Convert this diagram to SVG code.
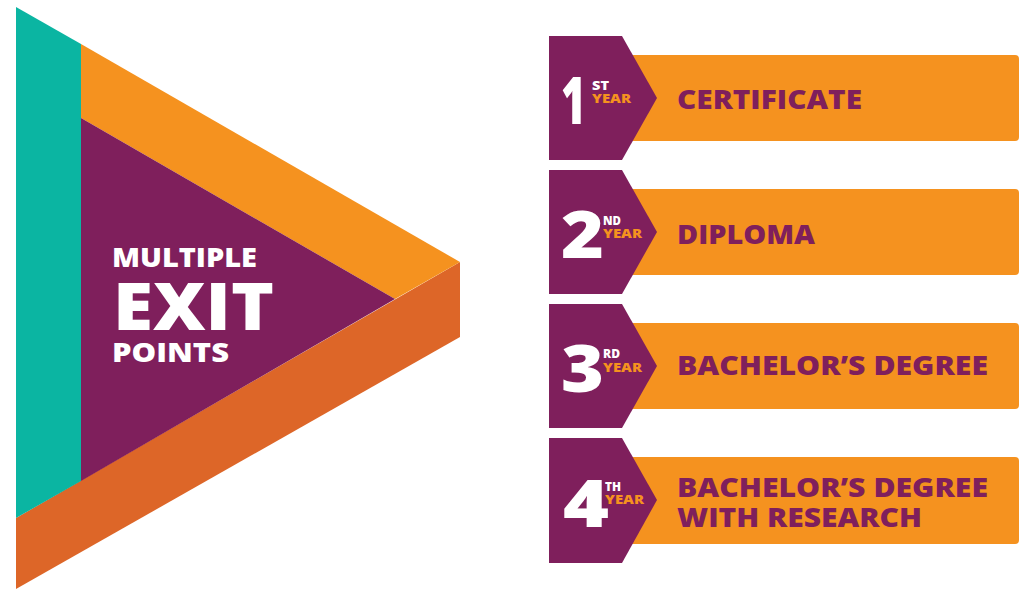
<svg xmlns="http://www.w3.org/2000/svg" width="1020" height="589" viewBox="0 0 1020 589">
  <style>
    text { font-family: "Open Sans", "Inter", "Liberation Sans", sans-serif; font-weight: 800; }
    .num { fill: #ffffff; font-size: 66px; }
    .sup { fill: #ffffff; font-size: 12.5px; }
    .yr { fill: #F5921F; font-size: 12.5px; }
    .lbl { fill: #7F1F5C; font-size: 27px; }
    .bar { fill: #F5921F; }
    .tab { fill: #7F1F5C; }
    .big { fill: #ffffff; }
  </style>
  <rect width="1020" height="589" fill="#ffffff"/>

  <g id="triangle">
    <polygon points="16,518 460,262 460,337 16,589" fill="#DD6628"/>
    <polygon points="81,44 460,262 395,299 81,118" fill="#F5921F"/>
    <polygon points="81,118 395,299 81,481" fill="#7F1F5C"/>
    <polygon points="16,7 81,44 81,481 16,518" fill="#0BB5A2"/>
    <text class="big" x="112" y="267" font-size="26.5" textLength="145" lengthAdjust="spacingAndGlyphs">MULTIPLE</text>
    <text class="big" x="113" y="330" font-size="66" textLength="161" lengthAdjust="spacingAndGlyphs">EXIT</text>
    <text class="big" x="112" y="362" font-size="26.5" textLength="117" lengthAdjust="spacingAndGlyphs">POINTS</text>
  </g>

  <g id="year1">
    <path class="bar" d="M620,55 H1015 Q1019,55 1019,59 V137 Q1019,141 1015,141 H620 Z"/>
    <polygon class="tab" points="549,36 622,36 657,98 622,160 549,160"/>
    <text class="num" x="561" y="124" textLength="25" lengthAdjust="spacingAndGlyphs">1</text>
    <text class="sup" x="592" y="89.5" textLength="17" lengthAdjust="spacingAndGlyphs">ST</text>
    <text class="yr" x="592" y="103" textLength="39" lengthAdjust="spacingAndGlyphs">YEAR</text>
    <text class="lbl" x="677" y="109" textLength="185" lengthAdjust="spacingAndGlyphs">CERTIFICATE</text>
  </g>

  <g id="year2">
    <path class="bar" d="M620,189 H1015 Q1019,189 1019,193 V271 Q1019,275 1015,275 H620 Z"/>
    <polygon class="tab" points="549,170 622,170 657,232 622,294 549,294"/>
    <text class="num" x="561" y="258" textLength="43" lengthAdjust="spacingAndGlyphs">2</text>
    <text class="sup" x="603" y="224.5" textLength="18" lengthAdjust="spacingAndGlyphs">ND</text>
    <text class="yr" x="603" y="238" textLength="39" lengthAdjust="spacingAndGlyphs">YEAR</text>
    <text class="lbl" x="677" y="243.5" textLength="138" lengthAdjust="spacingAndGlyphs">DIPLOMA</text>
  </g>

  <g id="year3">
    <path class="bar" d="M620,323 H1015 Q1019,323 1019,327 V405 Q1019,409 1015,409 H620 Z"/>
    <polygon class="tab" points="549,304 622,304 657,366 622,428 549,428"/>
    <text class="num" x="561" y="392" textLength="43" lengthAdjust="spacingAndGlyphs">3</text>
    <text class="sup" x="603" y="358" textLength="17" lengthAdjust="spacingAndGlyphs">RD</text>
    <text class="yr" x="603" y="372" textLength="39" lengthAdjust="spacingAndGlyphs">YEAR</text>
    <text class="lbl" x="677" y="375" textLength="311" lengthAdjust="spacingAndGlyphs">BACHELOR’S DEGREE</text>
  </g>

  <g id="year4">
    <path class="bar" d="M620,457 H1015 Q1019,457 1019,461 V540 Q1019,544 1015,544 H620 Z"/>
    <polygon class="tab" points="549,438 622,438 657,500 622,563 549,563"/>
    <text class="num" x="563" y="527" textLength="46" lengthAdjust="spacingAndGlyphs">4</text>
    <text class="sup" x="605" y="491" textLength="16" lengthAdjust="spacingAndGlyphs">TH</text>
    <text class="yr" x="605" y="504" textLength="39" lengthAdjust="spacingAndGlyphs">YEAR</text>
    <text class="lbl" x="677" y="497" textLength="311" lengthAdjust="spacingAndGlyphs">BACHELOR’S DEGREE</text>
    <text class="lbl" x="677" y="527" textLength="245" lengthAdjust="spacingAndGlyphs">WITH RESEARCH</text>
  </g>
</svg>
